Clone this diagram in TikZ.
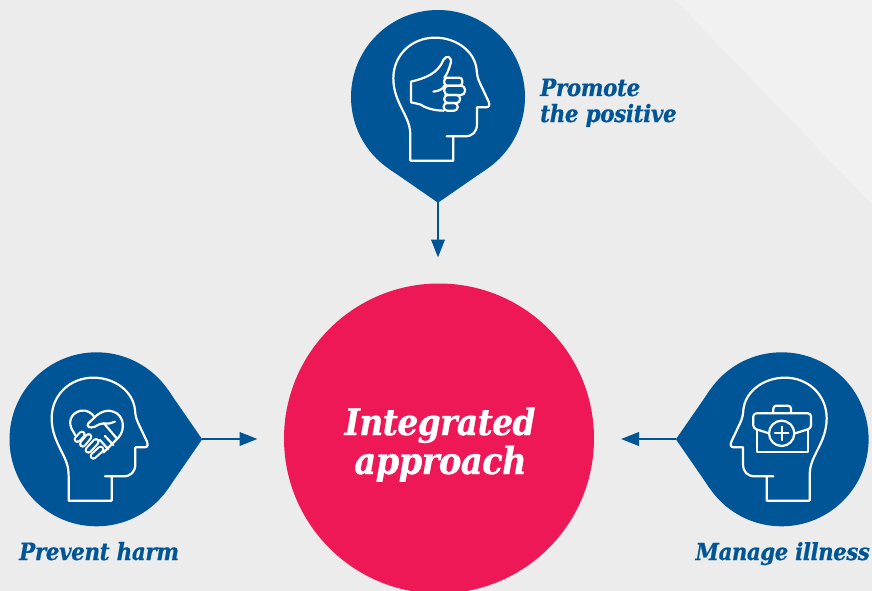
\documentclass[tikz,border=0pt]{standalone}
\usepackage{fontspec}
\usetikzlibrary{arrows.meta}
\newfontfamily\labfont[BoldItalicFont={DejaVu Serif Condensed Bold Italic},BoldItalicFeatures={FakeBold=0.7,LetterSpace=-1.5}]{DejaVu Serif Condensed}
\definecolor{pinblue}{HTML}{005596}
\definecolor{corepink}{HTML}{EE1857}
\definecolor{bggrey}{HTML}{ECECEC}
\definecolor{bglight}{HTML}{F1F1F1}
\newcommand{\headoutline}{(320,409) -- (375,409) .. controls (398,409) and (411,395) .. (411,372) -- (411,322) -- (438,322) .. controls (448,322) and (450,315) .. (446,305) -- (420,250) .. controls (413,235) and (411,225) .. (410,210) .. controls (405,155) and (350,113) .. (285,113) .. controls (215,113) and (160,165) .. (160,235) .. controls (160,275) and (175,305) .. (190,335) .. controls (205,365) and (211,380) .. (211,410) -- (211,482) -- (340,482) -- (340,409)}
\newcommand{\kiteshape}{(0,105.7) -- (49,71.8) -- (0,0) -- (-49,71.8) -- cycle}
\newcommand{\capsule}[4]{\draw[white,line width=7.4pt,line cap=round] (#1,#2) -- (#3,#4); \draw[pinblue,line width=3.2pt,line cap=round] (#1,#2) -- (#3,#4);}
\tikzset{
  pincircle/.style={circle,fill=pinblue,inner sep=0pt,minimum size=174pt},
  kitefill/.style={fill=pinblue},
  conn/.style={pinblue,line width=2.3pt,-{Triangle[length=18pt,width=13.5pt]}},
  iconline/.style={white,line width=2.2pt,line join=round,line cap=round},
  lab/.style={text=pinblue,font=\labfont\bfseries\itshape\fontsize{23.8}{26}\selectfont,inner sep=0pt,align=left},
  labsmall/.style={text=pinblue,font=\labfont\bfseries\itshape\fontsize{23.5}{26}\selectfont,inner sep=0pt,align=left},
  corelab/.style={text=white,font=\labfont\bfseries\itshape\fontsize{36.5}{39}\selectfont,inner sep=0pt,align=center},
  corelabb/.style={text=white,font=\labfont\bfseries\itshape\fontsize{37.5}{39}\selectfont,inner sep=0pt,align=center}
}
\begin{document}
\begin{tikzpicture}[x=1pt,y=-1pt]
\useasboundingbox (0,0) rectangle (872,591);
\clip (0,0) rectangle (872,591);
\fill[bggrey] (0,0) rectangle (872,591);
\fill[bglight] (675,0) -- (872,0) -- (872,204) -- cycle;
% centre
\node[circle,fill=corepink,inner sep=0pt,minimum size=310pt] (core) at (439,438.5) {};
\node[corelab,anchor=base] (corea) at (440,435) {Integrated};
\node[corelabb,anchor=base] (coreb) at (440.5,474) {approach};
% pins
\node[pincircle] (ptop) at (438,97) {};
\node[pincircle] (pleft) at (96.5,439.3) {};
\node[pincircle] (pright) at (781.6,439.3) {};
\begin{scope}[shift={(438,97)}] \fill[kitefill] \kiteshape; \end{scope}
\begin{scope}[shift={(96.5,439.3)},rotate=90] \fill[kitefill] \kiteshape; \end{scope}
\begin{scope}[shift={(781.6,439.3)},rotate=-90] \fill[kitefill] \kiteshape; \end{scope}
\coordinate (tipt) at (438,202);
\coordinate (tipl) at (202,439);
\coordinate (tipr) at (676,439);
\coordinate (endt) at (438,257.5);
\coordinate (endl) at (257.5,439);
\coordinate (endr) at (621,439);
\draw[conn] (tipt) -- (endt);
\draw[conn] (tipl) -- (endl);
\draw[conn] (tipr) -- (endr);
% heads
\begin{scope}[shift={(340,0)},scale=0.33333] \draw[iconline] \headoutline; \end{scope}
\begin{scope}[shift={(-1.67,340)},scale=0.33333] \draw[iconline] \headoutline; \end{scope}
\begin{scope}[shift={(880,340)},xscale=-0.33333,yscale=0.33333] \draw[iconline] \headoutline; \end{scope}
% thumb
\begin{scope}[shift={(405,45)},scale=0.33333]
\draw[iconline] (18,110) -- (18,172) -- (45,178) .. controls (60,188) and (85,197) .. (116,197);
\draw[iconline] (18,110) .. controls (60,100) and (100,85) .. (115,45) .. controls (124,28) and (142,35) .. (137,55) .. controls (131,75) and (126,88) .. (118,98);
\draw[iconline] (85,140) .. controls (105,138) and (115,130) .. (118,122);
\draw[iconline,rounded corners=3pt] (118,98) rectangle (172,122);
\draw[iconline,rounded corners=4pt] (118,122) rectangle (180,150);
\draw[iconline,rounded corners=3.5pt] (118,150) rectangle (165,174);
\draw[iconline,rounded corners=3.5pt] (116,174) rectangle (158,197);
\end{scope}
% handshake
\begin{scope}[shift={(60,400)},scale=0.33333]
\draw[iconline] (46,106) -- (40,95) .. controls (22,70) and (30,40) .. (62,32) .. controls (80,29) and (95,38) .. (104,52);
\draw[iconline] (104,52) .. controls (120,35) and (145,27) .. (160,35) .. controls (192,45) and (197,88) .. (176,112) -- (130,158);
\draw[iconline] (104,52) -- (85,70) .. controls (78,80) and (90,86) .. (105,80) .. controls (115,74) and (122,70) .. (132,70) .. controls (145,72) and (155,70) .. (165,65);
\draw[iconline] (132,70) -- (170,115);
\draw[iconline] (120,120) -- (145,148);
\draw[iconline] (135,108) -- (160,135);
\capsule{52}{118}{66}{103}
\capsule{68}{132}{86}{110}
\capsule{85}{150}{108}{125}
\capsule{100}{168}{122}{148}
\end{scope}
% briefcase
\begin{scope}[shift={(745,395)},scale=0.33333]
\draw[iconline,rounded corners=3pt] (72,115) -- (25,100) -- (25,55) -- (198,55) -- (198,100) -- (150,115);
\draw[iconline] (35,105) -- (35,172) -- (190,172) -- (190,105);
\draw[iconline] (110,115) circle [radius=38];
\draw[iconline] (110,95) -- (110,135);
\draw[iconline] (90,115) -- (130,115);
\draw[iconline,rounded corners=3pt] (85,55) -- (85,32) -- (138,32) -- (138,55);
\end{scope}
% labels
\node[lab,anchor=base west] (la) at (540,96) {Promote};
\node[lab,anchor=base west] (lb) at (540,122) {the positive};
\node[lab,anchor=base west] (lc) at (19,560) {Prevent harm};
\node[labsmall,anchor=base east] (ld) at (870,560) {Manage illness};
\end{tikzpicture}
\end{document}
